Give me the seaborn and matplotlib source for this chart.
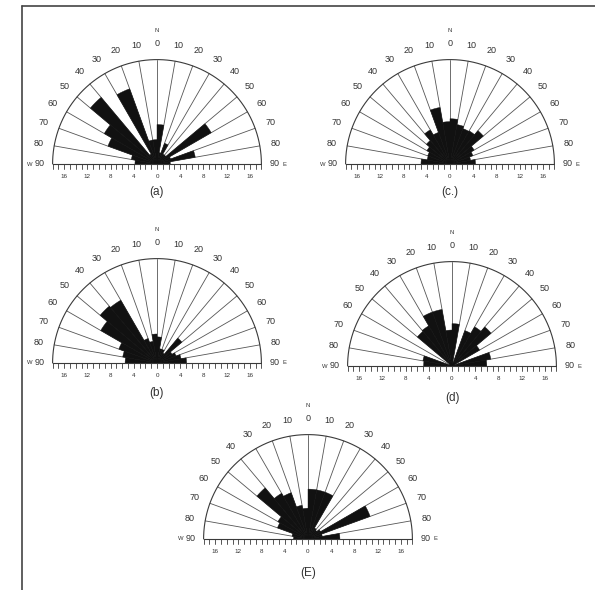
import numpy as np
import matplotlib
matplotlib.use("Agg")
import matplotlib.pyplot as plt
from matplotlib.patches import Wedge
import seaborn as sns

# Semicircular rose diagrams (10 degree sectors, W -> N -> E)
sns.set_theme(style="white")
plt.rcParams["font.family"] = ["Liberation Sans", "DejaVu Sans"]
plt.rcParams["patch.force_edgecolor"] = False

#================================================
# Data: sector start angles (compass, W=-90, N=0, E=90) and petal lengths
sector_start = list(range(-90, 90, 10))
angle_marks = list(range(-90, 91, 10))
scale_ticks = [-16, -12, -8, -4, 0, 4, 8, 12, 16]

petals_a = [3.8, 4.5, 9.0, 10.5, 15.0, 2.0, 13.8, 4.2, 4.2,
            6.8, 2.0, 3.8, 2.0, 2.0, 10.8, 2.5, 6.7, 2.3]
petals_b = [5.5, 6.0, 7.0, 11.2, 12.8, 12.5, 4.5, 3.8, 5.0,
            4.5, 2.5, 2.5, 2.0, 5.6, 3.0, 3.5, 4.2, 5.1]
petals_c = [5.0, 4.0, 4.1, 4.6, 5.3, 6.8, 5.8, 9.9, 7.3,
            7.8, 6.9, 6.5, 6.6, 7.5, 4.8, 4.2, 3.6, 4.4]
petals_d = [4.9, 5.1, 0.0, 0.5, 7.8, 8.0, 9.9, 9.9, 6.2,
            7.3, 0.0, 6.5, 7.8, 8.8, 5.5, 0.0, 6.8, 6.0]
petals_e = [2.5, 2.8, 5.6, 6.0, 11.5, 9.1, 8.5, 5.9, 5.3,
            8.6, 8.6, 8.6, 2.2, 2.0, 2.5, 11.4, 2.5, 5.5]

panel_names = ["(a)", "(c.)", "(b)", "(d)", "(E)"]
panel_data = [petals_a, petals_c, petals_b, petals_d, petals_e]
# centre of each rose in pixels (x, y from top) and caption offset (units)
panel_centres = [(157, 164), (450, 164), (157, 363), (452, 366), (308, 539)]
caption_dy = [4.9, 4.8, 5.2, 5.5, 5.8]

R = 18
PX = 5.8          # pixels per unit
W_PX, H_PX = 595, 590
LINE = "#3a3a3a"


def rose(ax, values, name, cap):
    ax.set_xlim(-25, 25)
    ax.set_ylim(-9, 26)
    ax.axis("off")

    # petals
    for a0, v in zip(sector_start, values):
        if v > 0:
            ax.add_patch(Wedge((0, 0), v, 90 - a0 - 10, 90 - a0,
                               facecolor="#111111", edgecolor="#111111",
                               linewidth=0.3, zorder=3))

    # radial lines
    for a in angle_marks:
        th = np.radians(90 - a)
        ax.plot([0, R * np.cos(th)], [0, R * np.sin(th)],
                color="#555555", lw=0.6, zorder=2)

    # outer arc + base line
    t = np.linspace(0, np.pi, 300)
    ax.plot(R * np.cos(t), R * np.sin(t), color=LINE, lw=0.8, zorder=4)
    ax.plot([-R, R], [0, 0], color=LINE, lw=0.8, zorder=4)
    for x in range(-R, R + 1):
        ax.plot([x, x], [0, -0.85], color=LINE, lw=0.6, zorder=4)
    for x in scale_ticks:
        ax.text(x, -2.1, str(abs(x)), ha="center", va="center",
                fontsize=4.5, color="#333333")

    # angle labels
    for a in angle_marks:
        th = np.radians(90 - a)
        r = 20.8 if abs(a) != 90 else 20.2
        ax.text(r * np.cos(th), r * np.sin(th) + (0.1 if abs(a) == 90 else 0),
                str(abs(a)), ha="center", va="center", fontsize=6.5, color="#333333")
    ax.text(0, 23.1, "N", ha="center", va="center", fontsize=4.2, color="#333333")
    ax.text(-21.9, 0.0, "W", ha="center", va="center", fontsize=4.2, color="#333333")
    ax.text(21.9, 0.0, "E", ha="center", va="center", fontsize=4.2, color="#333333")

    ax.text(0, -cap, name, ha="center", va="center", fontsize=8.5, color="#333333")


fig = plt.figure(figsize=(W_PX / 100, H_PX / 100), dpi=100)
fig.patch.set_facecolor("white")

for name, vals, (cx, cy), cap in zip(panel_names, panel_data, panel_centres, caption_dy):
    left = (cx - 25 * PX) / W_PX
    bottom = (H_PX - cy - 9 * PX) / H_PX
    ax = fig.add_axes([left, bottom, 50 * PX / W_PX, 35 * PX / H_PX])
    ax.patch.set_alpha(0)
    rose(ax, vals, name, cap)

# frame lines (top and left)
fig.add_artist(plt.Line2D([22 / W_PX, 1], [1 - 6 / H_PX, 1 - 6 / H_PX],
                          transform=fig.transFigure, color="#444444", lw=1.2))
fig.add_artist(plt.Line2D([22 / W_PX, 22 / W_PX], [0, 1 - 6 / H_PX],
                          transform=fig.transFigure, color="#444444", lw=1.2))

plt.savefig("out.png", dpi=100)
